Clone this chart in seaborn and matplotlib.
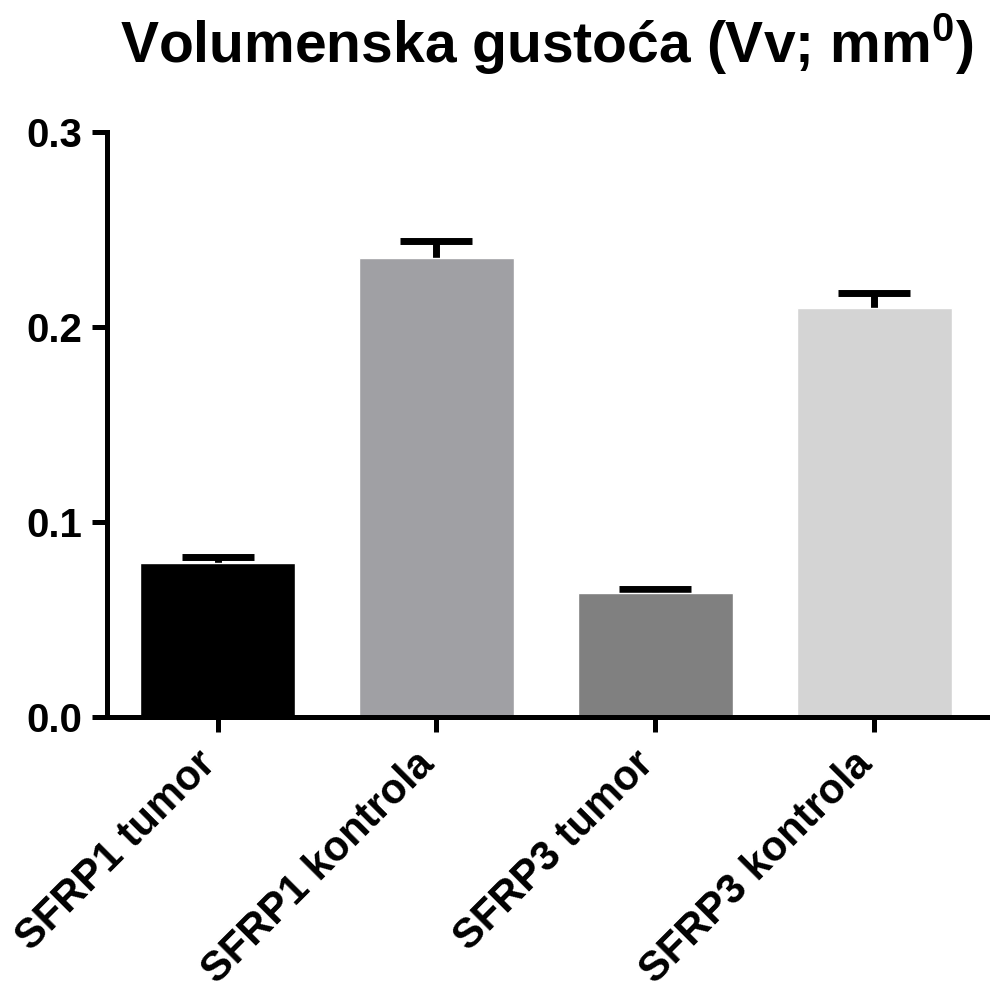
#!/usr/bin/env python3
"""Bar chart of volume density (Vv) for SFRP1/SFRP3 tumour vs control."""

import matplotlib
matplotlib.use("Agg")
import matplotlib.pyplot as plt
import pandas as pd
import seaborn as sns

GROUPS = ["SFRP1 tumor", "SFRP1 kontrola", "SFRP3 tumor", "SFRP3 kontrola"]
MEANS = [0.079, 0.2354, 0.0636, 0.2097]
SEMS = [0.003, 0.0085, 0.0018, 0.0078]
COLORS = ["#000000", "#a0a0a4", "#808080", "#d4d4d4"]
YTICKS = [0.0, 0.1, 0.2, 0.3]
TITLE = "Volumenska gustoća (Vv; mm$^{0}$)"

sns.set_style("ticks")
plt.rcParams['font.family'] = ["Liberation Sans", "DejaVu Sans"]
plt.rcParams['font.weight'] = "bold"
plt.rcParams['mathtext.fontset'] = "custom"
plt.rcParams['mathtext.rm'] = "Liberation Sans:bold"
plt.rcParams['mathtext.default'] = "rm"
plt.rcParams['text.color'] = "black"
plt.rcParams['xtick.color'] = "black"
plt.rcParams['ytick.color'] = "black"
plt.rcParams['axes.edgecolor'] = "black"


def main():
    df = pd.DataFrame({"group": GROUPS, "value": MEANS})
    fig = plt.figure(figsize=(9.9, 10.01), dpi=100)
    ax = fig.add_axes([0.108, 0.2837, 0.889, 0.5844])
    sns.barplot(data=df, x="group", y="value", hue="group", palette=COLORS,
                order=GROUPS, width=0.71, saturation=1, legend=False,
                errorbar=None, ax=ax)
    # Upper error bars only (GraphPad style): stem plus a single cap
    xpos = list(range(len(GROUPS)))
    tops = [m + s for m, s in zip(MEANS, SEMS)]
    ax.errorbar(x=xpos, y=MEANS, yerr=[[0] * len(SEMS), SEMS], fmt="none",
                ecolor="black", elinewidth=5, capsize=0, zorder=1)
    ax.plot(xpos, tops, ls="none", marker="_", ms=52, mew=5, color="black",
            zorder=1)
    for bar in ax.patches:
        bar.set_zorder(2)
    # Axes
    ax.set_xlim(-0.505, 3.514)
    ax.set_ylim(0, 0.3)
    ax.set_yticks(YTICKS)
    ax.set_yticklabels(["%.1f" % t for t in YTICKS])
    ax.set(xlabel="", ylabel="")
    sns.despine(ax=ax)
    for side in ("left", "bottom"):
        ax.spines[side].set_linewidth(3.6)
    ax.tick_params(axis="both", length=11, width=3.6, colors="black")
    ax.tick_params(axis="y", pad=7, labelsize=29)
    ax.tick_params(axis="x", pad=24, labelsize=30)
    plt.setp(ax.get_xticklabels(), rotation=45, ha="right", va="baseline",
             rotation_mode="anchor", fontweight="bold")
    plt.setp(ax.get_yticklabels(), fontweight="bold")
    ax.set_title(TITLE, fontsize=41, fontweight="bold", pad=50)
    fig.savefig("out.png", dpi=100)
    plt.close(fig)


if __name__ == '__main__':
    main()
